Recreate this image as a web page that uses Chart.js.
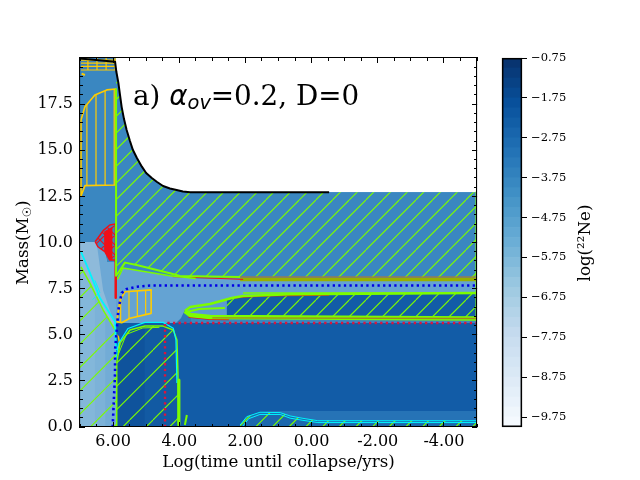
<!DOCTYPE html>
<html><head><meta charset="utf-8">
<script src="https://cdn.jsdelivr.net/npm/chart.js@4"></script>
<style>html,body{margin:0;padding:0;background:#fff}canvas{position:absolute;left:0;top:0}</style>
</head><body>
<canvas id="main" width="640" height="480"></canvas>
<canvas id="cbar" width="640" height="480"></canvas>
<script>
// ---- axes
const xMajor=[6,4,2,0,-2,-4];
const xMinor=[7,6.5,5.5,5,4.5,3.5,3,2.5,1.5,1,0.5,-0.5,-1,-1.5,-2.5,-3,-3.5,-4.5,-5];
const yMajor=[0,2.5,5,7.5,10,12.5,15,17.5];
const yMinor=[0.5,1,1.5,2,3,3.5,4,4.5,5.5,6,6.5,7,8,8.5,9,9.5,10.5,11,11.5,12,13,13.5,14,14.5,15.5,16,16.5,17,18,18.5,19,19.5];
const cbTicks=[-0.75,-1.75,-2.75,-3.75,-4.75,-5.75,-6.75,-7.75,-8.75,-9.75];
const cbLevels=[-10,-9.75,-9.5,-9.25,-9,-8.75,-8.5,-8.25,-8,-7.75,-7.5,-7.25,-7,-6.75,-6.5,-6.25,-6,-5.75,-5.5,-5.25,-5,-4.75,-4.5,-4.25,-4,-3.75,-3.5,-3.25,-3,-2.75,-2.5,-2.25,-2,-1.75,-1.5,-1.25,-1,-0.75];
// ---- boundaries [log t, mass]
const surface=[[7,19.97],[5.94,19.8],[5.9,19.24],[5.84,18.65],[5.79,17.99],[5.74,17.34],[5.67,16.69],[5.59,16.1],[5.49,15.5],[5.4,15.01],[5.28,14.58],[5.13,14.11],[5,13.77],[4.83,13.5],[4.67,13.28],[4.49,13.06],[4.28,12.93],[4.08,12.85],[3.89,12.76],[3.67,12.72],[-0.53,12.72]];
const starBody=[[7,19.97],[5.94,19.8],[5.9,19.24],[5.84,18.65],[5.79,17.99],[5.74,17.34],[5.67,16.69],[5.59,16.1],[5.49,15.5],[5.4,15.01],[5.28,14.58],[5.13,14.11],[5,13.77],[4.83,13.5],[4.67,13.28],[4.49,13.06],[4.28,12.93],[4.08,12.85],[3.89,12.76],[3.67,12.72],[-5,12.72],[-5,0],[7,0]];
const envelopeConv=[[5.91,19.5],[5.84,18.65],[5.79,17.99],[5.74,17.34],[5.67,16.69],[5.59,16.1],[5.49,15.5],[5.4,15.01],[5.28,14.58],[5.13,14.11],[5,13.77],[4.83,13.5],[4.67,13.28],[4.49,13.06],[4.28,12.93],[4.08,12.85],[3.89,12.76],[3.67,12.72],[-5,12.72],[-5,8.1],[3.98,8.18],[4.28,8.33],[5.29,8.78],[5.64,8.91],[5.89,8.24]];
const topStrip=[[7,20],[5.92,20],[5.92,19.35],[7,19.35]];
const lightLeft=[[7,10.03],[6.46,10.03],[6.25,9.5],[6.18,8.94],[5.91,8.94],[5.91,0],[7,0]];
const midLeft=[[6.5,10.03],[6.46,10.03],[6.25,9.5],[6.18,8.94],[5.91,8.94],[5.91,5.64],[6,5.8],[6.3,7.4]];
const hatchLeftA=[[7,8.68],[6.7,7.8],[6.55,7.25],[6.55,0],[7,0]];
const hatchLeftB=[[6.55,7.25],[6.24,6.15],[6.24,0],[6.55,0]];
const hatchLeftC=[[6.24,6.15],[5.94,5.26],[5.91,5.2],[5.91,0],[6.24,0]];
const midBand=[[5.91,8],[5.7,8.62],[5.29,8.5],[4.28,8.2],[3.5,8.05],[-5,8],[-5,7.26],[3.83,6.3],[3.83,5.64],[5.91,5]];
const darkCore=[[5.91,5.64],[-5,5.64],[-5,0],[5.91,0]];
const rampEdge=[[4.1,5.64],[3.95,5.9],[3.83,6.34],[3.65,6.1],[3.65,5.64]];
const coreA=[[5.89,0],[5.89,3.47],[5.79,4.55],[5.49,5.26],[5.04,5.47],[5.04,0]];
const coreB=[[5.04,0],[5.04,5.47],[4.49,5.47],[4.18,5.26],[4.07,4.72],[4.04,2.93],[4.03,0]];
const lobeTip=[[3.83,6.29],[3.67,6.5],[3.07,6.67],[2.56,6.88],[2.56,5.96],[3.07,5.96],[3.67,6.07]];
const lobeDark=[[2.56,6.88],[2.07,7.1],[1.26,7.15],[-5,7.26],[-5,5.96],[2.56,5.96]];
const lobeTop=[[3.83,6.29],[3.67,6.5],[3.07,6.67],[2.41,6.99],[2.07,7.1],[1.26,7.15],[0.65,7.19],[-5,7.26]];
const lobeBottom=[[3.83,6.29],[3.67,6.07],[3.07,5.96],[-5,5.88]];
const lobeInner=[[3.75,6.25],[3.4,6.4],[2.62,6.45]];
const lobeRed=[[3.72,5.98],[3.07,5.86],[2.5,5.84]];
const lobeTopRed=[[2.5,6.95],[2.07,7.05],[1.26,7.12],[-0.53,7.16]];
const lobeOlive=[[3,5.92],[-5,5.88]];
const bottomShell=[[2.16,0],[2.16,0.11],[1.96,0.56],[1.56,0.8],[0.95,0.78],[0.65,0.6],[0.26,0.47],[-0.19,0.34],[-5,0.34],[-5,0]];
const bottomGlow=[[1.56,0.87],[-5,0.87],[-5,0.34],[-0.19,0.34],[0.26,0.47],[0.65,0.6],[0.95,0.78]];
const cyanBottomA=[[2.16,0.11],[1.96,0.56],[1.56,0.8],[0.95,0.78],[0.65,0.6],[0.26,0.47],[-0.19,0.34],[-5,0.34]];
const cyanBottomB=[[2.1,0],[1.9,0.45],[1.56,0.68],[0.95,0.68],[0.65,0.48],[0.26,0.36],[-0.19,0.24],[-5,0.24]];
const cyanLeft=[[6.97,9.5],[6.7,8.35],[6.4,7],[5.94,5.71],[5.91,4.17]];
const cyanSpur=[[6.55,7.95],[6.4,7.3],[6.62,6.9]];
const cyanCore=[[5.92,3.63],[5.84,4.51],[5.55,5.34],[5.04,5.67],[4.49,5.67],[4.18,5.35],[4.1,4.72],[4.07,2.38]];
const greenLeft=[[6.97,8.68],[6.7,7.8],[6.3,6.34],[5.94,5.26],[5.91,5.2]];
const greenCore=[[5.89,0],[5.89,3.47],[5.79,4.55],[5.49,5.26],[5.04,5.47],[4.49,5.47],[4.18,5.26],[4.07,4.72],[4.04,2.93],[4.03,0]];
const greenCoreB=[[5.85,3.9],[5.6,5.02],[5.1,5.37],[4.6,5.4]];
const greenThick=[[4.01,2.55],[4.01,0.15]];
const greenStub=[[3.77,0.65],[3.83,0.11]];
const greenWall=[[5.91,18.3],[5.91,8.2]];
const greenEdge=[[-5,12.72],[-5,5.9]];
const peakA=[[5.89,8.24],[5.64,8.91],[5.29,8.78],[4.28,8.33],[3.98,8.18],[2.16,8.13]];
const peakB=[[5.87,8],[5.7,8.62],[5.29,8.5],[4.28,8.2],[3.5,8.05]];
const peakRed=[[4.2,8.15],[2.07,8]];
const upperOlive=[[2.16,8],[-5,8]];
const upperRust=[[2.5,8.13],[-5,8.13]];
const lowerGreen=[[2.07,7.26],[-5,7.26]];
const blueMix=[[6.01,0],[6.01,0.11],[5.94,2.93],[5.94,4.17],[5.84,6.34],[5.74,7.26],[5.59,7.48],[5.29,7.6],[4.88,7.67],[-5,7.67]];
const redMix=[[4.43,0],[4.43,5.64],[-5,5.64]];
const goldTall=[[6.97,16.64],[6.85,17.36],[6.55,18],[6.19,18.27],[5.92,18.32],[5.92,13.12],[6.85,13.08],[6.97,12.52]];
const goldShell=[[5.89,5.71],[5.79,6.88],[5.64,7.33],[4.85,7.43],[4.85,6.16],[5.49,5.89],[5.74,5.65]];
const goldSmall=[[5.89,4.99],[5.84,4.9],[5.8,4.5],[5.87,4.2]];
const goldDash=[[6.95,19.15],[6.85,19.08]];
const goldRows=[[[6.97,19.88],[5.92,19.88]],[[6.97,19.72],[5.92,19.72]],[[6.97,19.55],[5.92,19.55]],[[6.97,19.35],[5.92,19.35]]];
const redBurn=[[6.54,10.04],[6.3,10.64],[6.1,10.95],[5.93,11],[5.93,9.05],[6.1,9.05],[6.25,9.5],[6.46,9.77],[6.54,10.04]];
const redSolid=[[6.27,10.6],[6.02,10.85],[6.02,9.05],[6.1,9.05],[6.27,9.55]];
const redWall=[[5.92,9],[5.92,7]];

const GREEN='#7cfc00',CYAN='#00f5ff',GOLD='#ffcc00',RED='#f01018';

function tile(w,h,base,draw){const c=document.createElement('canvas');c.width=w;c.height=h;const g=c.getContext('2d');g.fillStyle=base;g.fillRect(0,0,w,h);draw(g);return document.getElementById('main').getContext('2d').createPattern(c,'repeat');}
function slash(base,S=50,off=15.85){const n=3,step=S/n;return tile(S,S,base,g=>{g.strokeStyle=GREEN;g.lineWidth=1.1;g.beginPath();for(let k=-n-2;k<=n+2;k++){const a=k*step+off;g.moveTo(a,S);g.lineTo(a+S,0);}g.stroke();});}
function bars(base,w,n,off){return tile(w,4,base,g=>{g.strokeStyle=GOLD;g.lineWidth=1.2;g.beginPath();for(let k=0;k<n;k++){const a=off+k*w/n;g.moveTo(a,0);g.lineTo(a,4);}g.stroke();});}
function redWeb(base){return tile(10,10,base,g=>{g.strokeStyle=RED;g.lineWidth=1.2;g.beginPath();for(let k=-1;k<2;k++){g.moveTo(k*10,10);g.lineTo(k*10+10,0);g.moveTo(k*10,0);g.lineTo(k*10+10,10);}g.stroke();});}

const layers=[];
function poly(d,color){layers.push({data:d,bg:color,fill:'shape',w:0});}
function line(d,color,w,dash){layers.push({data:d,color,w,dash});}

const ENV='#3a87c1',DARK='#125ca7',MID='#64a3d3';
poly(starBody,ENV);
poly(envelopeConv,slash(ENV));
poly(topStrip,'#3a7fb9');
poly(lightLeft,'#8ebada');
poly(midLeft,'#6da8d5');
poly(hatchLeftA,slash('#83b7da',70,4));
poly(hatchLeftB,slash('#7cb2d8',70,4));
poly(hatchLeftC,slash('#72acd6',70,4));
poly(midBand,MID);
poly(darkCore,DARK);
poly(rampEdge,'#2e77b9');
poly(coreA,slash('#0f539c',70,13));
poly(coreB,slash('#125aa3',70,13));
poly(lobeTip,'#5c9bd1');
poly(lobeDark,slash(DARK));
poly(bottomGlow,'#2673b6');
poly(bottomShell,slash('#1c68ae'));
poly(topStrip,bars('#3a7fb9',91,10,6));
poly(goldTall,bars(ENV,91,10,5));
poly(goldShell,bars(MID,25,3,4));
line(goldTall.concat([goldTall[0]]),GOLD,1.6);
line(goldShell.concat([goldShell[0]]),GOLD,1.6);
line(goldSmall,GOLD,1.5);
line(goldDash,GOLD,2);
goldRows.forEach(r=>line(r,GOLD,1.2));
line(redWall,RED,2.5);
poly(redBurn,redWeb(ENV));
poly(redSolid,RED);
line(redBurn,RED,1.5);
line(greenEdge,GREEN,3);
line(greenWall,GREEN,2);
line(upperOlive,'#98b000',3.5);
line(upperRust,'#c07820',1.2);
line(lowerGreen,GREEN,1.5);
line(peakRed,RED,1);
line(peakB,GREEN,1.5);
line(peakA,GREEN,2);
line(lobeRed,RED,2);
line(lobeTopRed,'#d03018',1.5);
line(lobeTop,GREEN,2.5);
line(lobeBottom,GREEN,4.5);
line(lobeInner,GREEN,2);
line(lobeOlive,'#a08a20',1.3);
line(greenLeft,GREEN,1.5);
line(cyanLeft,CYAN,1.8);
line(cyanSpur,CYAN,1);
line(greenCore,GREEN,1.5);
line(greenCoreB,GREEN,1);
line(cyanCore,CYAN,1.2);
line(greenThick,GREEN,3);
line(greenStub,GREEN,2);
line(cyanBottomA,CYAN,1);
line(cyanBottomB,CYAN,1);
line(redMix,'#dc143c',2.4,[2.3,3.3]);
line(blueMix,'#0000e6',2.6,[2.3,3.3]);
line(surface,'#000',2);

const N=layers.length;
const datasets=layers.map((l,i)=>({
  data:l.data.map(p=>({x:p[0],y:p[1]})),
  showLine:true,tension:0,pointRadius:0,order:N-i,
  borderWidth:l.w,borderColor:l.color||'rgba(0,0,0,0)',borderDash:l.dash||[],
  backgroundColor:l.bg||'rgba(0,0,0,0)',fill:l.fill||false,
  borderCapStyle:'butt',borderJoinStyle:'round',
  xAxisID:'x',yAxisID:'y'
}));

const SERIF='"DejaVu Serif"';
const FS=16.67,TS=16;
function ax(axis,pos,vals,len,extra){
  const isX=axis==='x';
  return Object.assign({
    axis,position:pos,type:'linear',
    min:isX?-5:0,max:isX?7:20,reverse:isX,
    afterBuildTicks:s=>{s.ticks=vals.map(v=>({value:v}));},
    afterFit:s=>{if(isX)s.height=0;else s.width=0;},
    grid:{drawOnChartArea:false,drawTicks:true,tickLength:-len,tickColor:'#000',tickWidth:1,z:1},
    border:{display:false,z:2},
    ticks:{display:false,autoSkip:false},
    weight:0
  },extra||{});
}
const scales={
  x:ax('x','bottom',xMajor,5,{
    weight:1,
    afterFit:s=>{s.height=53;},
    border:{display:true,color:'#000',width:1.1,z:2},
    ticks:{display:true,autoSkip:false,maxRotation:0,padding:10,color:'#000',font:{family:SERIF,size:TS},callback:v=>v.toFixed(2)},
    title:{display:true,text:'Log(time until collapse/yrs)',color:'#000',font:{family:SERIF,size:FS},padding:{top:0,bottom:7}}
  }),
  y:ax('y','left',yMajor,5,{
    weight:1,
    afterFit:s=>{s.width=80;},
    border:{display:true,color:'#000',width:1.1,z:2},
    ticks:{display:true,autoSkip:false,padding:12,color:'#000',font:{family:SERIF,size:TS},callback:v=>v.toFixed(1)}
  }),
  xm:ax('x','bottom',xMinor,3),
  ym:ax('y','left',yMinor,3),
  xt:ax('x','top',xMajor,5,{border:{display:true,color:'#000',width:1.1,z:2}}),
  xtm:ax('x','top',xMinor,3),
  yr:ax('y','right',yMajor,5,{border:{display:true,color:'#000',width:1.1,z:2}}),
  yrm:ax('y','right',yMinor,3)
};

function runs(ctx,parts,x,y){
  ctx.save();ctx.textBaseline='alphabetic';ctx.textAlign='left';ctx.fillStyle='#000';
  let cx=x;
  parts.forEach(p=>{ctx.font=p.font;ctx.fillText(p.text,cx,y+(p.dy||0));cx+=ctx.measureText(p.text).width;});
  ctx.restore();
}
const annotation={id:'annotation',afterDraw(c){
  const ctx=c.ctx;
  runs(ctx,[
    {text:'a) ',font:'27.78px '+SERIF},
    {text:'α',font:'italic 27.78px "DejaVu Sans"'},
    {text:'ov',font:'italic 19.4px "DejaVu Sans"',dy:4},
    {text:'=0.2, D=0',font:'27.78px '+SERIF}
  ],133,105);
  ctx.save();ctx.translate(28,285);ctx.rotate(-Math.PI/2);
  runs(ctx,[
    {text:'Mass(M',font:FS+'px '+SERIF},
    {text:'☉',font:'11.7px "DejaVu Sans"',dy:3},
    {text:')',font:FS+'px '+SERIF}
  ],0,0);
  ctx.restore();
}};

new Chart(document.getElementById('main'),{
  type:'scatter',
  data:{datasets},
  options:{
    responsive:false,animation:false,events:[],
    layout:{padding:{left:0,top:58,right:163,bottom:0}},
    plugins:{legend:{display:false},tooltip:{enabled:false},title:{display:false}},
    scales
  },
  plugins:[annotation]
});

// ---- colour bar
const BLUES=[[247,251,255],[222,235,247],[198,219,239],[158,202,225],[107,174,214],[66,146,198],[33,113,181],[8,81,156],[8,48,107]];
function blues(t){const f=t*8,i=Math.min(7,Math.floor(f)),r=f-i,a=BLUES[i],b=BLUES[i+1];
  return 'rgb('+a.map((v,k)=>Math.round(v+(b[k]-v)*r)).join(',')+')';}
const cbSets=[];
for(let i=0;i<cbLevels.length-1;i++){
  cbSets.push({data:[[cbLevels[i],cbLevels[i+1]]],backgroundColor:blues((i+0.5)/(cbLevels.length-1)),borderWidth:0,order:2});
}
cbSets.push({data:[[cbLevels[0],cbLevels[cbLevels.length-1]]],backgroundColor:'rgba(0,0,0,0)',borderColor:'#000',borderWidth:1.1,borderSkipped:false,order:1,clip:false});
const cbLabel={id:'cbLabel',afterDraw(c){
  const ctx=c.ctx;ctx.save();ctx.translate(590,243);ctx.rotate(-Math.PI/2);
  ctx.textAlign='center';ctx.fillStyle='#000';ctx.font=FS+'px '+SERIF;ctx.fillText('log(²²Ne)',0,0);ctx.restore();
}};
new Chart(document.getElementById('cbar'),{
  type:'bar',
  data:{labels:[''],datasets:cbSets},
  options:{
    responsive:false,animation:false,events:[],
    layout:{padding:{left:502,top:58,right:40,bottom:53}},
    plugins:{legend:{display:false},tooltip:{enabled:false}},
    datasets:{bar:{grouped:false,barPercentage:1,categoryPercentage:1}},
    scales:{
      x:{type:'category',display:false},
      y:{type:'linear',position:'right',min:-10,max:-0.75,
        afterBuildTicks:s=>{s.ticks=cbTicks.map(v=>({value:v}));},
        afterFit:s=>{s.width=78;},
        grid:{drawOnChartArea:false,tickLength:5,tickColor:'#000',tickWidth:1},
        border:{display:false},
        ticks:{autoSkip:false,padding:4,color:'#000',font:{family:SERIF,size:11.5},callback:v=>'−'+Math.abs(v).toFixed(2)}
      }
    }
  },
  plugins:[cbLabel]
});
</script>
</body></html>
